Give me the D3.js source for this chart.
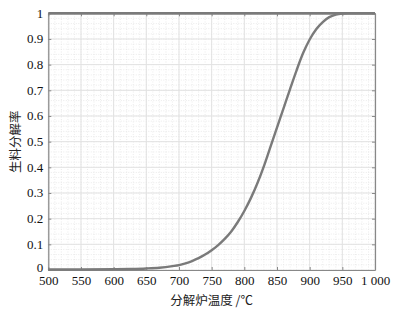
<!DOCTYPE html>
<html>
  <head>
    <meta charset="utf-8">
    <script src="https://cdn.jsdelivr.net/npm/d3@7/dist/d3.min.js"></script>
    <style>
      body { margin: 0; background: #fff; }
      svg { display: block; }
    </style>
  </head>
  <body>
    <script>
      // furnace temperature (°C) vs raw meal decomposition rate
      const temps = [500, 550, 600, 625, 650, 670, 690, 700, 710, 720, 730, 740, 750, 760, 770, 780, 790,
        800, 810, 820, 830, 840, 850, 860, 870, 880, 890, 900, 910, 920, 930, 940, 950, 960, 1000]
      const rates = [0.002, 0.002, 0.003, 0.004, 0.006, 0.009, 0.015, 0.019, 0.026, 0.035, 0.046, 0.060, 0.077,
        0.097, 0.121, 0.150, 0.187, 0.230, 0.280, 0.338, 0.405, 0.480, 0.555, 0.630, 0.705, 0.778, 0.845,
        0.898, 0.938, 0.966, 0.985, 0.995, 0.999, 1, 1]
      const upperTemps = [500, 1000]
      const upperRates = [1, 1]
      const xTicks = [500, 550, 600, 650, 700, 750, 800, 850, 900, 950, 1000]
      const yTicks = [0, 0.1, 0.2, 0.3, 0.4, 0.5, 0.6, 0.7, 0.8, 0.9, 1]
      const xTitle = '分解炉温度 /℃'
      const yTitle = '生料分解率'

      const W = 401, H = 311
      const m = {left: 48.3, right: 26, top: 13.3, bottom: 41}
      const svg = d3.select('body').append('svg').attr('width', W).attr('height', H)

      const x = d3.scaleLinear().domain([500, 1000]).range([m.left, W - m.right])
      const y = d3.scaleLinear().domain([0, 1]).range([H - m.bottom, m.top])

      // minor grid (dotted)
      const g = svg.append('g')
      g.selectAll('.mx').data(d3.range(500, 1001, 10)).join('line')
        .attr('x1', d => x(d)).attr('x2', d => x(d)).attr('y1', y(0)).attr('y2', y(1))
        .attr('stroke', '#e6e6e6').attr('stroke-width', 0.8).attr('stroke-dasharray', '1,1.5')
      g.selectAll('.my').data(d3.range(0, 1.001, 0.02)).join('line')
        .attr('y1', d => y(d)).attr('y2', d => y(d)).attr('x1', x(500)).attr('x2', x(1000))
        .attr('stroke', '#e6e6e6').attr('stroke-width', 0.8).attr('stroke-dasharray', '1,1.5')
      // major grid
      g.selectAll('.gx').data(xTicks).join('line')
        .attr('x1', d => x(d)).attr('x2', d => x(d)).attr('y1', y(0)).attr('y2', y(1))
        .attr('stroke', '#e2e2e2').attr('stroke-width', 1)
      g.selectAll('.gy').data(yTicks).join('line')
        .attr('y1', d => y(d)).attr('y2', d => y(d)).attr('x1', x(500)).attr('x2', x(1000))
        .attr('stroke', '#e2e2e2').attr('stroke-width', 1)

      const fmtX = d => d === 1000 ? '1 000' : String(d)
      const fmtY = d => d === 0 ? '0' : d === 1 ? '1' : d3.format('.1f')(d)
      const serif = "'Times New Roman', 'Liberation Serif', Times, serif"

      const axisStyle = sel => {
        sel.attr('font-family', null).attr('font-size', null)
        sel.select('.domain').attr('stroke', '#888').attr('stroke-width', 1.2)
        sel.selectAll('.tick line').attr('stroke', '#888').attr('stroke-width', 1)
        sel.selectAll('.tick text').attr('fill', '#111')
          .attr('font-family', serif)
          .attr('font-size', 13)
      }

      svg.append('g').attr('transform', `translate(0,${y(0)})`)
        .call(d3.axisBottom(x).tickValues(xTicks).tickFormat(fmtX).tickSizeInner(-3).tickSizeOuter(0).tickPadding(6))
        .call(axisStyle)
      svg.append('g').attr('transform', `translate(0,${y(1)})`)
        .call(d3.axisTop(x).tickValues(xTicks).tickFormat('').tickSizeInner(-3).tickSizeOuter(0))
        .call(axisStyle)
      svg.append('g').attr('transform', `translate(${x(500)},0)`)
        .call(d3.axisLeft(y).tickValues(yTicks).tickFormat(fmtY).tickSizeInner(-3).tickSizeOuter(0).tickPadding(5))
        .call(axisStyle)
        .call(s => s.selectAll('.tick text').attr('dy', d => d === 0 ? '0.1em' : '0.3em'))
      svg.append('g').attr('transform', `translate(${x(1000)},0)`)
        .call(d3.axisRight(y).tickValues(yTicks).tickFormat('').tickSizeInner(-3).tickSizeOuter(0))
        .call(axisStyle)

      const line = d3.line().x(d => x(d[0])).y(d => y(d[1])).curve(d3.curveMonotoneX)
      svg.append('path').datum(d3.zip(upperTemps, upperRates)).attr('d', line)
        .attr('fill', 'none').attr('stroke', '#7a7a7a').attr('stroke-width', 2.4)
      svg.append('path').datum(d3.zip(temps, rates)).attr('d', line)
        .attr('fill', 'none').attr('stroke', '#7a7a7a').attr('stroke-width', 2.4)

      svg.append('text').attr('x', x(750)).attr('y', 305).attr('text-anchor', 'middle')
        .attr('font-family', '"Noto Sans CJK SC", sans-serif').attr('font-size', 12.5).attr('fill', '#222')
        .text(xTitle)
      svg.append('text').attr('transform', `translate(20,${(y(0) + y(1)) / 2}) rotate(-90)`)
        .attr('text-anchor', 'middle')
        .attr('font-family', '"Noto Sans CJK SC", sans-serif').attr('font-size', 12.5).attr('fill', '#222')
        .text(yTitle)
    </script>
  </body>
</html>
